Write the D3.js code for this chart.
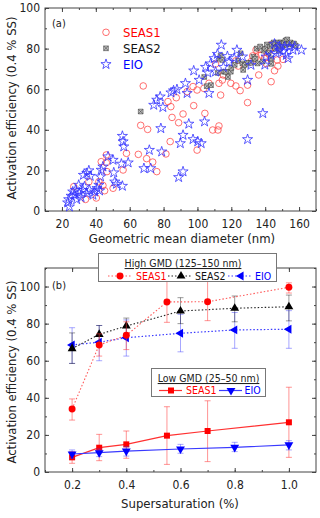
<!DOCTYPE html>
<html><head><meta charset="utf-8">
<script src="https://cdn.jsdelivr.net/npm/d3@7"></script>
<style>
body{margin:0;background:#fff;}
text{font-family:"DejaVu Sans Condensed","DejaVu Sans",sans-serif;}
</style></head>
<body>
<svg id="c" width="320" height="518"></svg>
<script>
// ---------- Panel (a) data: [GMD (nm), activation efficiency (%)] ----------
const seas1A = [[27,12],[33.9,5.7],[35.9,14.4],[40.3,6.4],[41.8,14.4],[43.2,24.3],[44.2,12.6],[45.2,10],[46.2,27.6],[46.2,23.8],[46.6,19.4],[50.2,11.2],[56.1,20.2],[58.1,28.4],[65.1,27.9],[66.5,42.2],[68,61.6],[70.6,40.2],[70,25.8],[73.6,24.1],[76,19.4],[81.4,28.1],[82.6,53.9],[84.3,51.4],[83.9,34.2],[85,46.1],[87.5,55.8],[88.9,43.5],[91.5,47.8],[93.9,58.8],[97.8,51.9],[97.4,61.3],[99.8,59.6],[99.8,30],[103.8,60.4],[104.4,48.1],[106.8,62.9],[109,39.9],[112.1,39.9],[112.7,41.9],[113.7,57.1],[112.7,62.9],[114.7,64.5],[110.7,72.4],[115.3,67],[119.7,62.9],[122.7,61.6],[125.2,59.3],[129.6,53.4],[129.6,62],[122.7,74],[124.1,71.4],[131.6,73.6],[132.6,76.4],[134.6,79.3],[136.2,67],[136.6,79.6],[137.6,76.8],[140.6,72.7],[139.5,75.2],[142.5,79.3],[143.1,81.8],[143.5,63.7],[145.5,69.1],[147.1,74.4],[147.5,71.4],[150.5,74.7],[141.5,77.8],[134.6,75.9]];
const seas2A = [[66.5,49],[104,66],[105.5,61.5],[108,62],[112,68],[113,75],[113.7,76.4],[114.7,74.4],[115.7,68.6],[116.6,68.6],[118,66],[119.7,68.6],[120,70.5],[122,72],[124,74],[125.5,77.7],[126.6,72.7],[127,69.5],[128,72],[130,73],[131.6,73],[133,76],[134,75],[135.5,72.7],[135,80],[137,81],[138.5,73.6],[139,79],[140,80],[141,82],[142,78],[143,81],[143.4,75.2],[144,82],[145,83],[146,82.5],[147,81],[147.5,83],[148,82],[149,83],[150,82.5],[150.5,81.5],[151,83],[152,84],[152.5,82],[153,84.5],[154,82.5],[155,83],[156,82],[157,82.5],[158,81.5],[146,80],[148,79],[143.5,72.5]];
const eioA = [[23.4,4.1],[24.4,2.1],[24,5.7],[25.4,7.4],[26.4,9.5],[28,10.3],[27.4,7.9],[28.7,5.7],[29.9,12.8],[30.3,8.7],[31.3,6.7],[32.3,10.3],[33.3,12],[32.7,17.7],[34.7,18.6],[35.9,19.9],[36.7,17.2],[34.7,8.7],[36.3,10.3],[38.3,7.9],[39.3,9.5],[40.7,11.2],[41.8,12.8],[42.2,10],[43.2,20.2],[44.2,21.8],[42.8,16.9],[47.2,26.8],[50.2,25.1],[50.6,18.9],[51.2,14.4],[52.2,13.3],[55.1,23.2],[55.7,36.9],[56.1,34.2],[56.5,31.7],[55.7,12.3],[59.1,23.8],[68.4,21],[71.6,30],[72.4,21],[74.2,52.2],[76,54.7],[78,56.3],[78.4,40.7],[79.6,51.1],[78.9,29.2],[84.4,58.3],[85.9,59.3],[87.9,59.9],[88.9,16.6],[89.9,33.3],[91.5,37.4],[91.5,19.4],[92.9,62.9],[93.9,58],[94.9,42.9],[97.4,35.3],[97.8,69.1],[100.2,34.2],[101,64.5],[102.2,33.3],[104.2,44],[104.8,70.9],[106.2,68.1],[106.8,58],[107.8,72.6],[109.8,75.2],[110.7,68.6],[111.8,77.3],[114.1,81.8],[115.3,70.9],[117.7,76.2],[118.7,73.4],[121.7,75.2],[123.3,79.3],[129.6,64.5],[129.6,35.3],[126.6,76],[131.6,71.9],[138.6,48.1],[139.8,72],[140.5,76],[143.5,76.8],[146.5,77.7],[148.5,79.3],[150.5,78.5],[152.5,76.8],[153.5,75.2],[154.4,81],[156.4,79.3],[157.4,81],[161.4,79.3],[145.5,82.3],[148.5,81],[151.5,81]];

// ---------- Panel (b) data: supersaturation (%), mean, error low, error high ----------
const ssSeas1 = [0.2,0.3,0.4,0.55,0.7,1.0];
const ssSeas2 = [0.2,0.3,0.4,0.6,0.8,1.0];
const ssEio   = [0.2,0.3,0.4,0.6,0.8,1.0];
const hiSeas1 = [34,68.5,73.7,91.7,91.8,99.6];
const hiSeas1Lo = [28,62.5,66,80.7,81.6,96.5];
const hiSeas1Hi = [39.4,74.5,81,103,103,102];
const hiSeas2 = [66.5,74.2,78.7,86.8,88.3,89.1];
const hiSeas2Lo = [58.5,69.5,74.5,80,81,81.5];
const hiSeas2Hi = [75,79,83,94,94.9,95.4];
const hiEio = [68.5,70,72.4,74.8,76.6,77];
const hiEioLo = [58.6,60,62.5,64.8,66.7,66.7];
const hiEioHi = [77.8,79,82,85,86,87];
const loSeas1 = [7.9,13.1,14.9,19.6,22.1,26.8];
const loSeas1Lo = [4.7,6.1,7.4,4.1,5.6,7.9];
const loSeas1Hi = [11,20.3,22.1,35.2,38.4,45.7];
const loEio = [9.7,10.4,11.3,12.4,13.3,14.6];
const loEioLo = [7.4,8.3,8.6,10.1,11,11.9];
const loEioHi = [11.9,12.4,13.6,14.9,16,16.9];

// ---------- Tick labels ----------
const xTicksA = [20,40,60,80,100,120,140,160];
const yTicksA = [0,20,40,60,80,100];
const xTicksB = [0.2,0.4,0.6,0.8,1.0];
const yTicksB = [0,20,40,60,80,100];

const svg = d3.select("#c");
const FRAME = "#444";
const FS = 12;

function frameAxes(g, x, y, xMaj, xMin, yMaj, yMin, xfmt, yfmt){
  const [x0,x1] = x.range(), [y0,y1] = y.range();
  g.append("g").attr("transform",`translate(0,${y0})`)
    .call(d3.axisBottom(x).tickValues(xMin).tickSize(-2).tickFormat(""));
  g.append("g").attr("transform",`translate(0,${y0})`)
    .call(d3.axisBottom(x).tickValues(xMaj).tickSize(-4).tickPadding(8).tickFormat(xfmt));
  g.append("g").attr("transform",`translate(0,${y1})`)
    .call(d3.axisTop(x).tickValues(xMin).tickSize(-2).tickFormat(""));
  g.append("g").attr("transform",`translate(0,${y1})`)
    .call(d3.axisTop(x).tickValues(xMaj).tickSize(-4).tickFormat(""));
  g.append("g").attr("transform",`translate(${x0},0)`)
    .call(d3.axisLeft(y).tickValues(yMin).tickSize(-2).tickFormat(""));
  g.append("g").attr("transform",`translate(${x0},0)`)
    .call(d3.axisLeft(y).tickValues(yMaj).tickSize(-4).tickPadding(5).tickFormat(yfmt));
  g.append("g").attr("transform",`translate(${x1},0)`)
    .call(d3.axisRight(y).tickValues(yMin).tickSize(-2).tickFormat(""));
  g.append("g").attr("transform",`translate(${x1},0)`)
    .call(d3.axisRight(y).tickValues(yMaj).tickSize(-4).tickFormat(""));
  g.selectAll(".domain").remove();
  g.selectAll(".tick line").attr("stroke",FRAME);
  g.selectAll(".tick text").attr("fill","#222").style("font-size",FS+"px")
    .style("font-family",'"DejaVu Sans Condensed","DejaVu Sans",sans-serif');
  g.append("rect").attr("x",x0).attr("y",y1).attr("width",x1-x0).attr("height",y0-y1)
    .attr("fill","none").attr("stroke",FRAME).attr("stroke-width",1);
}

// ================= Panel (a) =================
const xA = d3.scaleLinear().domain([10,170]).range([45,316]);
const yA = d3.scaleLinear().domain([0,100]).range([211,8]);
const gA = svg.append("g");
frameAxes(gA, xA, yA, xTicksA, d3.range(10,171,10), yTicksA, d3.range(0,101,10), d3.format("d"), d3.format("d"));

const boxX = {draw(ctx,size){const s=Math.sqrt(size)/2;ctx.moveTo(-s,-s);ctx.lineTo(s,-s);ctx.lineTo(s,s);ctx.lineTo(-s,s);ctx.closePath();ctx.moveTo(-s,-s);ctx.lineTo(s,s);ctx.moveTo(s,-s);ctx.lineTo(-s,s);}};

gA.append("g").selectAll("circle").data(seas1A).join("circle")
  .attr("cx",d=>xA(d[0])).attr("cy",d=>yA(d[1])).attr("r",3.3)
  .attr("fill","none").attr("stroke","#ff4a4a").attr("stroke-width",0.8);
gA.append("g").selectAll("path").data(seas2A).join("path")
  .attr("transform",d=>`translate(${xA(d[0])},${yA(d[1])})`)
  .attr("d",d3.symbol().type(boxX).size(22))
  .attr("fill","#c4c4c4").attr("stroke","#333").attr("stroke-width",0.55);
gA.append("g").selectAll("path").data(eioA).join("path")
  .attr("transform",d=>`translate(${xA(d[0])},${yA(d[1])})`)
  .attr("d",d3.symbol().type(d3.symbolStar).size(32))
  .attr("fill","none").attr("stroke","#3333ff").attr("stroke-width",0.8);

gA.append("text").attr("x",52).attr("y",27).text("(a)").style("font-size","11px").attr("fill","#222");
const legA = [{n:"SEAS1",c:"red"},{n:"SEAS2",c:"#111"},{n:"EIO",c:"blue"}];
legA.forEach((l,i)=>{
  const yy = 32.3 + i*16;
  if(i===0) gA.append("circle").attr("cx",106).attr("cy",yy).attr("r",3.3).attr("fill","none").attr("stroke","#ff4a4a").attr("stroke-width",0.8);
  if(i===1) gA.append("path").attr("transform",`translate(106,${yy})`).attr("d",d3.symbol().type(boxX).size(22)).attr("fill","#c4c4c4").attr("stroke","#333").attr("stroke-width",0.55);
  if(i===2) gA.append("path").attr("transform",`translate(106,${yy})`).attr("d",d3.symbol().type(d3.symbolStar).size(32)).attr("fill","none").attr("stroke","#3333ff").attr("stroke-width",0.8);
  gA.append("text").attr("x",123).attr("y",yy+4.5).text(l.n).attr("fill",l.c).style("font-size","13px");
});
svg.append("text").attr("transform","translate(16,108) rotate(-90)").attr("text-anchor","middle")
  .text("Activation efficiency (0.4 % SS)").style("font-size","13px").attr("fill","#222");
svg.append("text").attr("x",182).attr("y",243).attr("text-anchor","middle")
  .text("Geometric mean diameter (nm)").style("font-size","13px").attr("fill","#222");

// ================= Panel (b) =================
const xB = d3.scaleLinear().domain([0.1,1.1]).range([45,316]);
const yB = d3.scaleLinear().domain([0,110]).range([472,268]);
const gB = svg.append("g");
frameAxes(gB, xB, yB, xTicksB, d3.range(1,11).map(v=>v/10), yTicksB, d3.range(0,111,10), d3.format(".1f"), d3.format("d"));

gB.append("text").attr("x",52).attr("y",289).text("(b)").style("font-size","11px").attr("fill","#222");

function series(xs, ys, lo, hi, opt){
  const g = gB.append("g");
  const pts = xs.map((x,i)=>({x, y:ys[i], lo:lo[i], hi:hi[i]}));
  const eb = g.append("g").attr("stroke",opt.err).attr("stroke-width",1);
  pts.forEach(p=>{
    const cx = xB(p.x);
    eb.append("line").attr("x1",cx).attr("x2",cx).attr("y1",yB(p.lo)).attr("y2",yB(p.hi));
    eb.append("line").attr("x1",cx-3).attr("x2",cx+3).attr("y1",yB(p.lo)).attr("y2",yB(p.lo));
    eb.append("line").attr("x1",cx-3).attr("x2",cx+3).attr("y1",yB(p.hi)).attr("y2",yB(p.hi));
  });
  g.append("path").datum(pts).attr("d",d3.line().x(d=>xB(d.x)).y(d=>yB(d.y)))
    .attr("fill","none").attr("stroke",opt.line).attr("stroke-width",opt.lw)
    .attr("stroke-dasharray",opt.dash||null);
  g.selectAll(".m").data(pts).join("path")
    .attr("transform",d=>`translate(${xB(d.x)},${yB(d.y)}) rotate(${opt.rot||0})`)
    .attr("d",d3.symbol().type(opt.sym).size(opt.size)).attr("fill",opt.fill);
}
series(ssEio, hiEio, hiEioLo, hiEioHi, {err:"rgba(60,60,255,0.45)",line:"#3a3aff",lw:1.2,dash:"1.5,2",sym:d3.symbolTriangle,rot:-90,size:34,fill:"blue"});
series(ssSeas2, hiSeas2, hiSeas2Lo, hiSeas2Hi, {err:"rgba(0,0,0,0.4)",line:"#222",lw:1.1,dash:"1.5,2",sym:d3.symbolTriangle,rot:0,size:34,fill:"#000"});
series(ssSeas1, hiSeas1, hiSeas1Lo, hiSeas1Hi, {err:"rgba(255,60,60,0.55)",line:"#ff5a5a",lw:1.1,dash:"1.5,2",sym:d3.symbolCircle,size:38,fill:"red"});
series(ssSeas1, loSeas1, loSeas1Lo, loSeas1Hi, {err:"rgba(255,60,60,0.55)",line:"#ff3030",lw:1.2,sym:d3.symbolSquare,size:36,fill:"red"});
series(ssEio, loEio, loEioLo, loEioHi, {err:"rgba(60,60,255,0.45)",line:"#3a3aff",lw:1.2,sym:d3.symbolTriangle,rot:180,size:34,fill:"blue"});

function legendBox(x0,y0,w,h,title,tx,ty,items,rowY){
  const g = svg.append("g");
  g.append("rect").attr("x",x0).attr("y",y0).attr("width",w).attr("height",h).attr("fill","#fff").attr("stroke","#777").attr("stroke-width",1);
  g.append("text").attr("x",tx).attr("y",ty).attr("text-anchor","middle").text(title)
    .style("font-size","10.5px").style("text-decoration","underline").attr("fill","#222");
  items.forEach(it=>{
    g.append("line").attr("x1",it.l0).attr("x2",it.l1).attr("y1",rowY).attr("y2",rowY)
      .attr("stroke",it.line).attr("stroke-width",1.2).attr("stroke-dasharray",it.dash||null);
    g.append("path").attr("transform",`translate(${it.mx},${rowY}) rotate(${it.rot||0})`)
      .attr("d",d3.symbol().type(it.sym).size(it.size)).attr("fill",it.fill);
    g.append("text").attr("x",it.tx).attr("y",rowY+3.8).text(it.name).attr("fill",it.tc).style("font-size","10.5px");
  });
}
legendBox(98.5,253.5,178,28,"High GMD (125–150 nm)",183,267,[
  {l0:108,l1:131,mx:120,name:"SEAS1",tx:136,tc:"red",line:"#ff5a5a",dash:"1.5,2",sym:d3.symbolCircle,size:38,fill:"red"},
  {l0:168,l1:191,mx:181,name:"SEAS2",tx:195,tc:"#111",line:"#222",dash:"1.5,2",sym:d3.symbolTriangle,size:34,fill:"#000"},
  {l0:228,l1:251,mx:241,name:"EIO",tx:255,tc:"blue",line:"#3a3aff",dash:"1.5,2",sym:d3.symbolTriangle,rot:-90,size:34,fill:"blue"}
],276);
legendBox(151.5,368.5,114,28,"Low GMD (25–50 nm)",208.5,382,[
  {l0:159,l1:182,mx:171,name:"SEAS1",tx:186,tc:"red",line:"#ff3030",sym:d3.symbolSquare,size:36,fill:"red"},
  {l0:219,l1:242,mx:231,name:"EIO",tx:244.5,tc:"blue",line:"#3a3aff",sym:d3.symbolTriangle,rot:180,size:34,fill:"blue"}
],390.5);

svg.append("text").attr("transform","translate(16,372) rotate(-90)").attr("text-anchor","middle")
  .text("Activation efficiency (0.4 % SS)").style("font-size","13px").attr("fill","#222");
svg.append("text").attr("x",180).attr("y",508).attr("text-anchor","middle")
  .text("Supersaturation (%)").style("font-size","13px").attr("fill","#222");
</script>
</body></html>
